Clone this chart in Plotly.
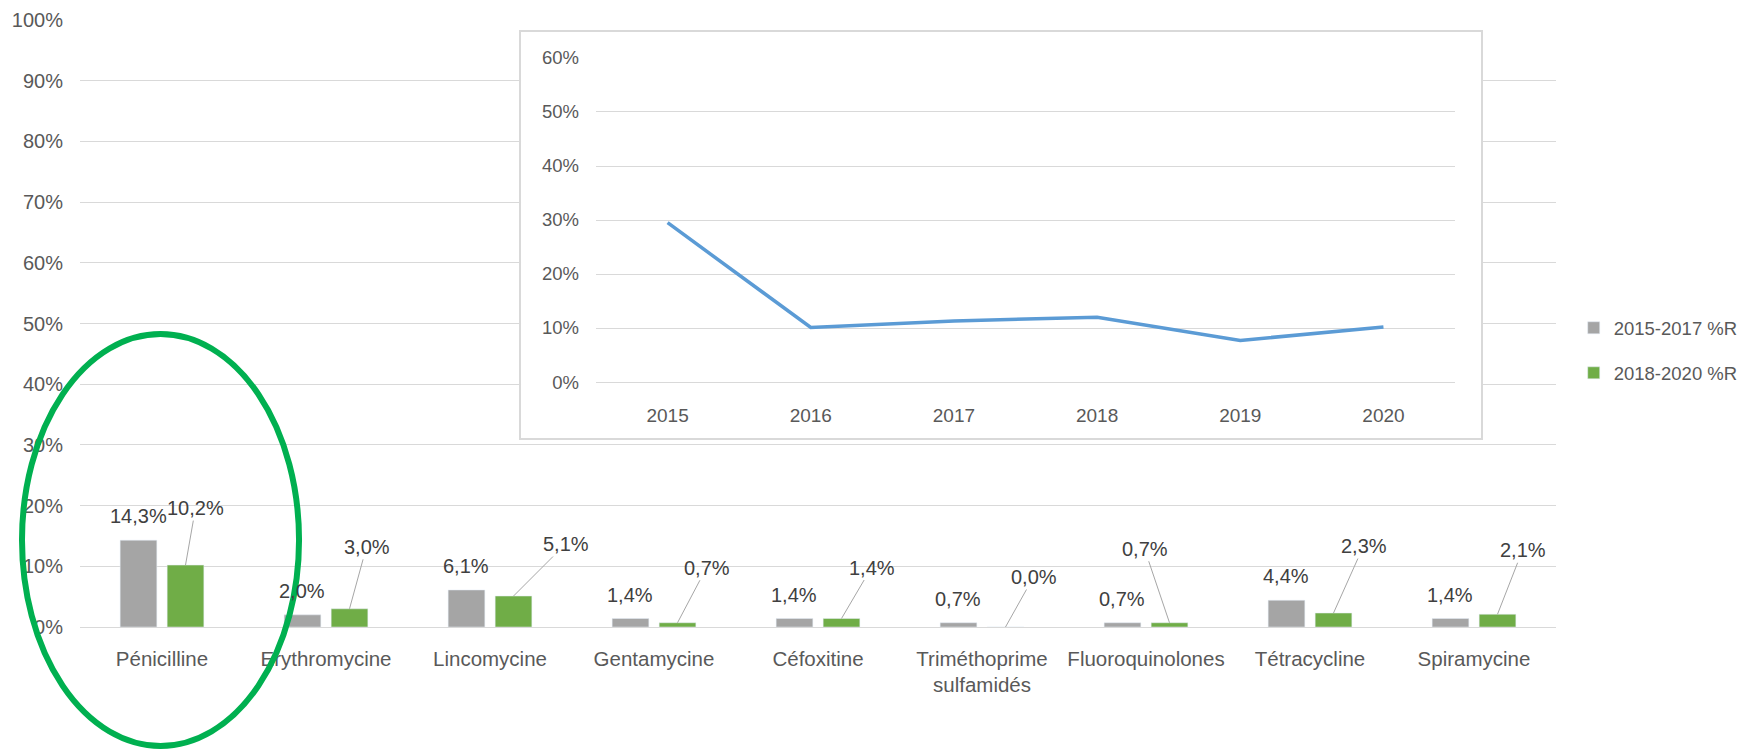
import plotly.graph_objects as go

# ---------------- data ----------------
categories = ["Pénicilline", "Erythromycine", "Lincomycine", "Gentamycine", "Céfoxitine",
              "Triméthoprime<br>sulfamidés", "Fluoroquinolones", "Tétracycline", "Spiramycine"]
r_2015_2017 = [14.3, 2.0, 6.1, 1.4, 1.4, 0.7, 0.7, 4.4, 1.4]
r_2018_2020 = [10.2, 3.0, 5.1, 0.7, 1.4, 0.0, 0.7, 2.3, 2.1]
series_names = ["2015-2017 %R", "2018-2020 %R"]

years = ["2015", "2016", "2017", "2018", "2019", "2020"]
penicillin_trend = [29.5, 10.1, 11.3, 12.0, 7.7, 10.2]

main_ticks = list(range(0, 101, 10))
main_tick_labels = [f"{t}%" for t in main_ticks]
inset_ticks = list(range(0, 61, 10))
inset_tick_labels = [f"{t}%" for t in inset_ticks]

# ---------------- styles / layout ----------------
FONT = "Liberation Sans"
TXT = "#595959"
LBL = "#404040"
GRID = "#d9d9d9"
GRAY = "#a5a5a5"
GREEN = "#70ad47"
BLUE = "#5b9bd5"
BARGAP = 0.4265
BARGROUPGAP = 0.22
OFF = (1 - BARGAP) / 4  # bar centre offset in category units

# pixel offsets (text centre relative to bar top) for the moved green labels
green_label_offsets = [(10, -57), (17, -62), (52, -52), (29, -55), (30, -51),
                       (28, -50), (-25, -74), (30, -67), (25, -64)]


def fmt(v):
    return f"{v:.1f}".replace(".", ",") + "%"


fig = go.Figure()
fig.add_trace(go.Bar(x=categories, y=r_2015_2017, name=series_names[0], marker_color=GRAY,
                     legendgroup="a", hoverinfo="skip"))
fig.add_trace(go.Bar(x=categories, y=r_2018_2020, name=series_names[1], marker_color=GREEN,
                     legendgroup="b", hoverinfo="skip"))
# dummy trace for the inset frame subplot
fig.add_trace(go.Scatter(x=[None], y=[None], xaxis="x2", yaxis="y2", showlegend=False,
                         hoverinfo="skip"))
fig.add_trace(go.Scatter(x=years, y=penicillin_trend, xaxis="x3", yaxis="y3", mode="lines",
                         line=dict(color=BLUE, width=3.5), showlegend=False, hoverinfo="skip"))

annotations = []
for i, v in enumerate(r_2015_2017):
    annotations.append(dict(x=i - OFF, y=v, xref="x", yref="y", text=fmt(v), showarrow=False,
                            yanchor="middle", xanchor="center", yshift=24,
                            font=dict(family=FONT, size=20, color=LBL)))
for i, v in enumerate(r_2018_2020):
    ax, ay = green_label_offsets[i]
    annotations.append(dict(x=i + OFF, y=v, xref="x", yref="y", text=fmt(v), showarrow=True,
                            arrowhead=0, arrowwidth=1, arrowcolor="#a6a6a6", ax=ax, ay=ay,
                            standoff=0, startstandoff=0,
                            font=dict(family=FONT, size=20, color=LBL)))

fig.update_layout(
    width=1750, height=749,
    margin=dict(l=80, r=194, t=20, b=122, autoexpand=False),
    paper_bgcolor="white", plot_bgcolor="white",
    font=dict(family=FONT, size=20, color=TXT),
    barmode="group", bargap=BARGAP, bargroupgap=BARGROUPGAP,
    showlegend=True,
    legend=dict(x=1.012, y=0.5235, xanchor="left", yanchor="top", tracegroupgap=18,
                font=dict(family=FONT, size=18.5, color=TXT), bgcolor="rgba(0,0,0,0)"),
    xaxis=dict(domain=[0, 1], type="category", showgrid=False, showline=True, linecolor=GRID,
               linewidth=1, ticks="", ticklabelstandoff=13, zeroline=False, automargin=False,
               tickfont=dict(family=FONT, size=20.5, color=TXT)),
    yaxis=dict(domain=[0, 1], range=[0, 100], tickmode="array", tickvals=main_ticks,
               ticktext=main_tick_labels, automargin=False,
               showgrid=True, gridcolor=GRID, gridwidth=1, zeroline=False, showline=False,
               ticks="", ticklabelstandoff=16, tickfont=dict(family=FONT, size=20, color=TXT)),
    # inset frame
    xaxis2=dict(domain=[0.2988, 0.9492], anchor="y2", range=[0, 1], showgrid=False,
                showticklabels=False, ticks="", zeroline=False, showline=True, mirror=True,
                linecolor=GRID, linewidth=2, automargin=False),
    yaxis2=dict(domain=[0.3114, 0.9802], anchor="x2", range=[0, 1], showgrid=False,
                showticklabels=False, ticks="", zeroline=False, showline=True, mirror=True,
                linecolor=GRID, linewidth=2, automargin=False),
    # inset line chart
    xaxis3=dict(domain=[0.3496, 0.9316], anchor="y3", type="category", range=[-0.5, 5.5],
                showgrid=False, showline=True, linecolor=GRID, linewidth=1, ticks="",
                ticklabelstandoff=16, zeroline=False, automargin=False,
                tickfont=dict(family=FONT, size=19, color=TXT)),
    yaxis3=dict(domain=[0.4036, 0.9374], anchor="x3", range=[0, 60], tickmode="array",
                tickvals=inset_ticks, ticktext=inset_tick_labels, automargin=False,
                showgrid=True, gridcolor=GRID, gridwidth=1, zeroline=False,
                showline=False, ticks="", ticklabelstandoff=16,
                tickfont=dict(family=FONT, size=18.5, color=TXT)),
    annotations=annotations,
    shapes=[dict(type="circle", xref="paper", yref="paper", x0=-0.0393, x1=0.1484,
                 y0=-0.196, y1=0.4827, line=dict(color="#00b050", width=6), layer="above")],
)

fig.write_html("out.html")
